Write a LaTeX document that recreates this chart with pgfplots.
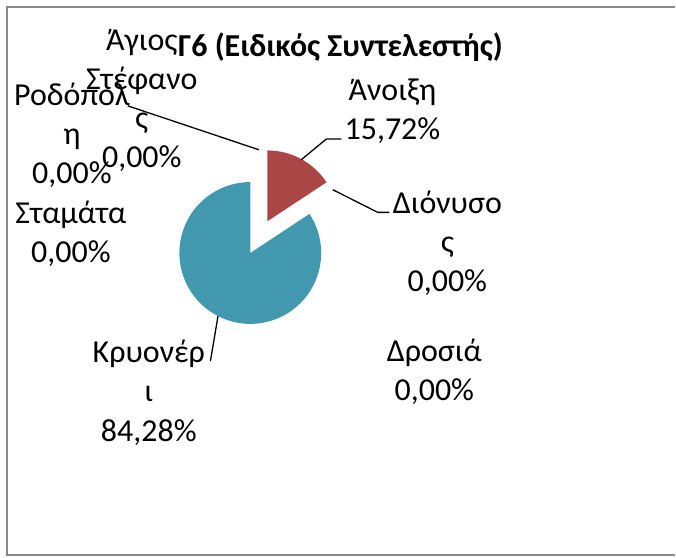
\documentclass[border=0pt]{standalone}
\usepackage{pgfplots}
\pgfplotsset{compat=1.18}
\usepackage{pgfplotstable}
\usepackage{fontspec}
\setmainfont{Carlito}
\definecolor{pieRed}{HTML}{AA4643}
\definecolor{pieBlue}{HTML}{4198AF}
\definecolor{frameGray}{HTML}{888888}
\newcommand\lf{\fontsize{16}{19.5}\selectfont}

\pgfplotstableread{
name value
Anoixi 15.72
Dionysos 0
Drosia 0
Kryoneri 84.28
Rodopoli 0
Stamata 0
AgiosStefanos 0
}\piedata

\begin{document}
\begin{tikzpicture}
\pgfplotstablegetelem{0}{value}\of\piedata\edef\vA{\pgfplotsretval}
\pgfplotstablegetelem{3}{value}\of\piedata\edef\vK{\pgfplotsretval}
\pgfmathsetmacro\aEnd{90-3.6*\vA}
\pgfmathsetmacro\aMidA{90-1.8*\vA}
\pgfmathsetmacro\aMidK{\aEnd-1.8*\vK}
\pgfmathsetmacro\rxA{259.2+18*cos(\aMidA)}
\pgfmathsetmacro\ryA{320.5+18*sin(\aMidA)}
\pgfmathsetmacro\rxK{259.2+18*cos(\aMidK)}
\pgfmathsetmacro\ryK{320.5+18*sin(\aMidK)}
\begin{axis}[x=0.5pt, y=0.5pt, xmin=0, xmax=676, ymin=0, ymax=558,
  hide axis, clip=false]
\path (axis cs:0,0) rectangle (axis cs:676,558);
% frame
\draw[frameGray, line width=1pt] (axis cs:676,551) -- (axis cs:7,551) -- (axis cs:7,2) -- (axis cs:676,2);
% slices
\fill[pieRed] (axis cs:\rxA,\ryA) -- ++(90:35.5pt) arc[start angle=90, end angle=\aEnd, radius=35.5pt] -- cycle;
\fill[pieBlue] (axis cs:\rxK,\ryK) -- ++(\aEnd:35.5pt) arc[start angle=\aEnd, end angle=-270, radius=35.5pt] -- cycle;
% leader lines
\addplot[black, line width=0.65pt, mark=none] coordinates {(128,452) (259.3,408)};
\addplot[black, line width=0.65pt, mark=none] coordinates {(301.7,398) (326.7,418.7) (342,418.7)};
\addplot[black, line width=0.65pt, mark=none] coordinates {(333.3,368) (378.3,345.3) (390,345.3)};
\addplot[black, line width=0.65pt, mark=none] coordinates {(218.3,241.3) (210.7,196.3)};
% title
\node[anchor=base, inner sep=0pt, font=\fontsize{16}{19}\selectfont\bfseries] at (axis cs:341,501) {Γ6 (Ειδικός Συντελεστής)};
% labels
\begin{scope}[every node/.style={anchor=base, inner sep=0pt, font=\lf}]
\node at (axis cs:142,507) {Άγιος};
\node at (axis cs:142,468) {Στέφανο};
\node at (axis cs:142,429) {ς};
\node at (axis cs:142,390) {0,00\%};
\node at (axis cs:72,452) {Ροδόπολ};
\node at (axis cs:72,413) {η};
\node at (axis cs:72,374) {0,00\%};
\node at (axis cs:71,334) {Σταμάτα};
\node at (axis cs:71,295) {0,00\%};
\node at (axis cs:393,457.5) {Άνοιξη};
\node at (axis cs:393,418.5) {15,72\%};
\node at (axis cs:448,344) {Διόνυσο};
\node at (axis cs:448,305) {ς};
\node at (axis cs:448,266) {0,00\%};
\node at (axis cs:435,196) {Δροσιά};
\node at (axis cs:435,157) {0,00\%};
\node at (axis cs:149,195) {Κρυονέρ};
\node at (axis cs:149,156) {ι};
\node at (axis cs:149,116) {84,28\%};
\end{scope}
\end{axis}
\end{tikzpicture}
\end{document}
